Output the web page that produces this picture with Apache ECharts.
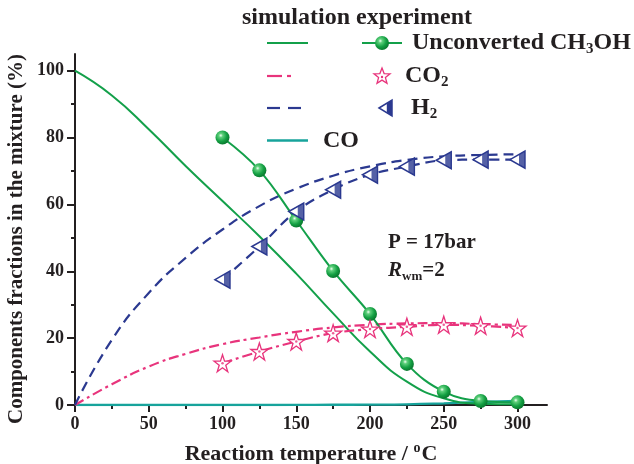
<!DOCTYPE html>
<html><head><meta charset="utf-8">
<script src="https://cdn.jsdelivr.net/npm/echarts@6/dist/echarts.min.js"></script>
<style>html,body{margin:0;padding:0;background:#fff}#c{width:634px;height:464px}</style>
</head><body><div id="c"></div>
<script>
// ---- data ----
const simT = [0,25,50,75,100,125,150,175,200,225,250,275,300];
const simCH3OH = [100,92.6,82.5,71.5,61,50.5,39.3,27.4,16,7,2,0.4,0.2];
const simCO2 = [0,6.2,11.5,15.3,18.2,20.2,21.9,23.2,24,24.4,24.5,24.2,23.9];
const simH2 = [0,19.5,33.5,44,52.5,59.5,64.7,68.6,71.4,73.3,74.4,74.8,75];
const simCO = [0,0,0,0,0,0,0.03,0.06,0.1,0.2,0.5,0.9,1.2];
const expT = [100,125,150,175,200,225,250,275,300];
const expCH3OH = [80,70.2,55.2,40.1,27.2,12.3,4,1.2,0.8];
const expCO2 = [12.5,16,19,21.5,22.7,23.4,24,23.7,23];
const expH2 = [37.5,47.4,57.9,64.4,68.9,71.3,73.2,73.4,73.4];
const xMajor = [0,50,100,150,200,250,300];
const xMinor = [25,75,125,175,225,275];
const yMajor = [0,20,40,60,80,100];
const yMinor = [10,30,50,70,90];

const pair = (xs, ys) => xs.map((x, i) => [x, ys[i]]);
const FONT = '"Liberation Serif","DejaVu Serif",serif';
const INK = '#231f20';
const GREEN = '#13a04a', PINK = '#e8347c', NAVY = '#2b3990', TEAL = '#17a39b';
const sphere = {type:'radial', x:0.38, y:0.35, r:0.65, colorStops:[
  {offset:0,color:'#f2fff4'},{offset:0.22,color:'#5fd07c'},{offset:0.65,color:'#14a043'},{offset:1,color:'#0a7a2f'}]};
const STAR = 'path://M50,0 L61.8,35.1 L98.9,35.1 L68.8,56.8 L80.3,91.9 L50,70.2 L19.7,91.9 L31.2,56.8 L1.1,35.1 L38.2,35.1 Z';
const TRI = 'path://M0,8 L14,0 L14,16 Z';
const TRIFILL = 'path://M0,3.2 L5.6,0 L5.6,16 L0,12.8 Z';

function starPts(cx, cy, R, r) {
  const p = [];
  for (let k = 0; k < 10; k++) {
    const a = -Math.PI / 2 + k * Math.PI / 5;
    const rad = k % 2 ? r : R;
    p.push([cx + rad * Math.cos(a), cy + rad * Math.sin(a)]);
  }
  return p;
}

const chart = echarts.init(document.getElementById('c'), null, {renderer:'canvas'});
const lbl = {fontFamily:FONT, fontWeight:'bold', color:INK};
const rb = {fontSize:24, fontFamily:FONT, fontWeight:'bold', fill:INK};
const rs = {fontSize:15, fontFamily:FONT, fontWeight:'bold', fill:INK, padding:[13,0,0,0], verticalAlign:'bottom'};

chart.setOption({
  animation:false,
  backgroundColor:'#fff',
  grid:{left:75, right:87, top:54, bottom:59, containLabel:false, outerBoundsMode:'none'},
  xAxis:[{
    type:'value', min:0, max:320,
    axisLine:{show:true, lineStyle:{color:INK, width:2}},
    axisTick:{show:true, customValues:xMajor, length:7, lineStyle:{color:INK, width:2}},
    axisLabel:{customValues:xMajor, fontSize:18, margin:10, ...lbl},
    splitLine:{show:false},
    name:'{n|Reactiom temperature / }{sup|o}{n|C}', nameLocation:'middle', nameGap:36,
    nameTextStyle:{rich:{
      n:{fontSize:22, ...lbl},
      sup:{fontSize:14, ...lbl, padding:[0,1,12,0]}
    }}
  },{
    type:'value', min:0, max:320, position:'bottom',
    axisLine:{show:false},
    axisTick:{show:true, customValues:xMinor, length:4, lineStyle:{color:INK, width:2}},
    axisLabel:{show:false}, splitLine:{show:false}
  }],
  yAxis:[{
    type:'value', min:0, max:105,
    axisLine:{show:true, lineStyle:{color:INK, width:2}},
    axisTick:{show:true, customValues:yMajor, length:8, lineStyle:{color:INK, width:2}},
    axisLabel:{customValues:yMajor, fontSize:18, margin:11, ...lbl},
    splitLine:{show:false}
  },{
    type:'value', min:0, max:105, position:'left',
    axisLine:{show:false},
    axisTick:{show:true, customValues:yMinor, length:4, lineStyle:{color:INK, width:2}},
    axisLabel:{show:false}, splitLine:{show:false}
  }],
  series:[
    {name:'sim CO', type:'line', data:pair(simT, simCO), smooth:0.5, showSymbol:false,
     lineStyle:{color:TEAL, width:2.4}, z:2},
    {name:'sim CH3OH', type:'line', data:pair(simT, simCH3OH), smooth:0.5, showSymbol:false,
     lineStyle:{color:GREEN, width:2}, z:3},
    {name:'sim CO2', type:'line', data:pair(simT, simCO2), smooth:0.5, showSymbol:false,
     lineStyle:{color:PINK, width:2.2, type:[10,4,3,4]}, z:3},
    {name:'sim H2', type:'line', data:pair(simT, simH2), smooth:0.5, showSymbol:false,
     lineStyle:{color:NAVY, width:2.2, type:[10,6]}, z:3},
    {name:'exp CH3OH', type:'line', data:pair(expT, expCH3OH), smooth:0.4,
     symbol:'circle', symbolSize:14, showAllSymbol:true,
     lineStyle:{color:GREEN, width:2}, itemStyle:{color:sphere, borderWidth:0}, z:5},
    {name:'exp CO2', type:'line', data:pair(expT, expCO2), smooth:0.4,
     symbol:STAR, symbolSize:17, showAllSymbol:true,
     lineStyle:{color:PINK, width:2.2, type:[10,4,3,4]},
     itemStyle:{color:'#fff', borderColor:PINK, borderWidth:1.3}, z:5},
    {name:'exp CO2 dot', type:'scatter', data:pair(expT, expCO2), symbol:'circle', symbolSize:2.5,
     itemStyle:{color:PINK}, z:6},
    {name:'exp H2', type:'line', data:pair(expT, expH2), smooth:0.4,
     symbol:TRI, symbolSize:[15,17], showAllSymbol:true,
     lineStyle:{color:NAVY, width:2.2, type:[10,6]},
     itemStyle:{color:'#fff', borderColor:NAVY, borderWidth:1.5}, z:5},
    {name:'exp H2 fill', type:'scatter', data:pair(expT, expH2), symbol:TRIFILL,
     symbolSize:[6,17], symbolOffset:[4.5,0], itemStyle:{color:NAVY}, z:6}
  ],
  graphic:[
    {type:'text', x:17, y:239, rotation:Math.PI/2,
     style:{text:'Components fractions in the mixture (%)', font:'bold 21px '+FONT, fill:INK, align:'center', verticalAlign:'middle'}},
    {type:'text', left:242, top:6, style:{text:'simulation experiment', font:'bold 24px '+FONT, fill:INK}},
    // row 1
    {type:'line', shape:{x1:267,y1:43,x2:308,y2:43}, style:{stroke:GREEN, lineWidth:2.2}},
    {type:'line', shape:{x1:362,y1:43,x2:402,y2:43}, style:{stroke:GREEN, lineWidth:2.2}},
    {type:'circle', shape:{cx:382,cy:43,r:7}, style:{fill:sphere}},
    {type:'text', left:412, top:31, style:{text:'{b|Unconverted CH}{s|3}{b|OH}', rich:{b:rb, s:rs}}},
    // row 2
    {type:'line', shape:{x1:267,y1:76,x2:282,y2:76}, style:{stroke:PINK, lineWidth:2.2}},
    {type:'line', shape:{x1:287,y1:76,x2:291,y2:76}, style:{stroke:PINK, lineWidth:2.2}},
    {type:'polygon', shape:{points:starPts(382,76.5,8.5,3.6)}, style:{fill:'#fff', stroke:PINK, lineWidth:1.3}},
    {type:'circle', shape:{cx:382,cy:77,r:1.2}, style:{fill:PINK}},
    {type:'text', left:405, top:64, style:{text:'{b|CO}{s|2}', rich:{b:rb, s:rs}}},
    // row 3
    {type:'line', shape:{x1:267,y1:108,x2:280,y2:108}, style:{stroke:NAVY, lineWidth:2.2}},
    {type:'line', shape:{x1:288,y1:108,x2:301,y2:108}, style:{stroke:NAVY, lineWidth:2.2}},
    {type:'polygon', shape:{points:[[379,108],[392,100],[392,116]]}, style:{fill:'#fff', stroke:NAVY, lineWidth:1.5}},
    {type:'polygon', shape:{points:[[386.8,103.5],[392,100],[392,116],[386.8,112.5]]}, style:{fill:NAVY}},
    {type:'text', left:411, top:96, style:{text:'{b|H}{s|2}', rich:{b:rb, s:rs}}},
    // row 4
    {type:'line', shape:{x1:267,y1:140.5,x2:308,y2:140.5}, style:{stroke:TEAL, lineWidth:2.4}},
    {type:'text', left:323, top:129, style:{text:'CO', font:'bold 24px '+FONT, fill:INK}},
    // annotation
    {type:'text', left:388, top:232, style:{text:'P = 17bar', font:'bold 21px '+FONT, fill:INK}},
    {type:'text', left:388, top:260, style:{text:'{i|R}{s|wm}{b|=2}', rich:{
      i:{fontSize:21, fontFamily:FONT, fontWeight:'bold', fontStyle:'italic', fill:INK},
      b:{fontSize:21, fontFamily:FONT, fontWeight:'bold', fill:INK},
      s:{fontSize:13, fontFamily:FONT, fontWeight:'bold', fill:INK, padding:[12,0,0,0], verticalAlign:'bottom'}}}}
  ]
});
</script></body></html>
